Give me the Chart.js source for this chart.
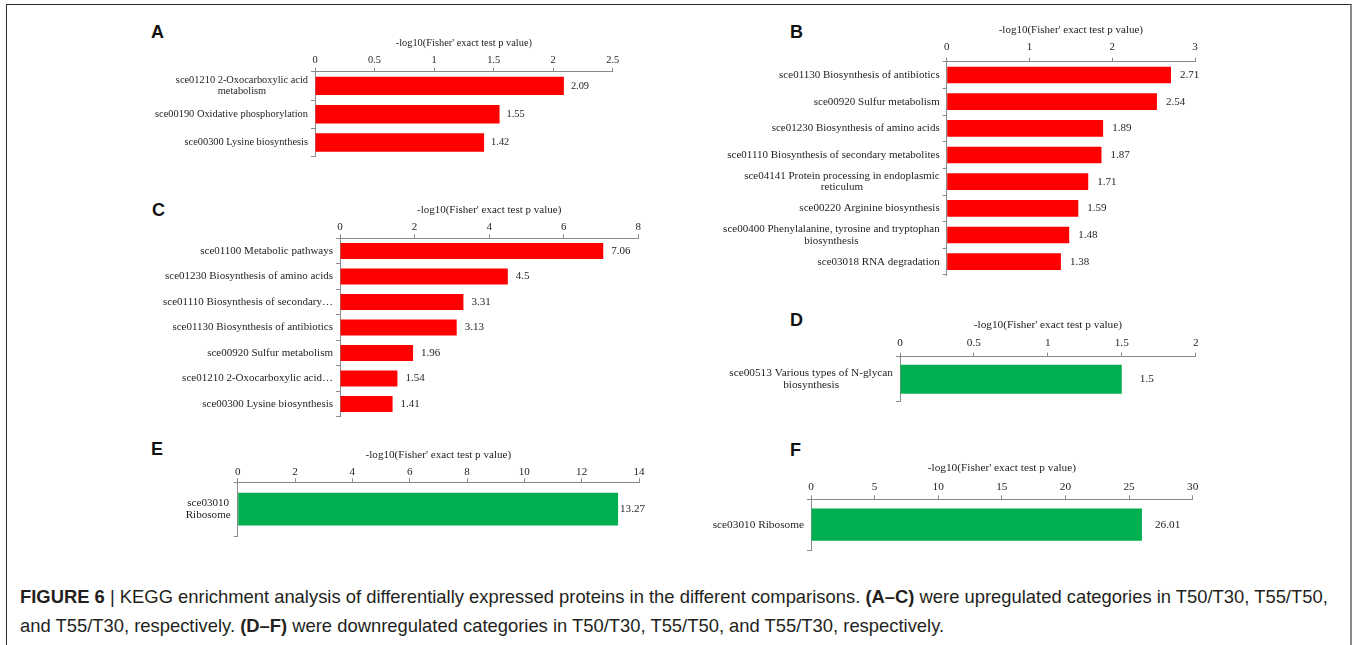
<!DOCTYPE html>
<html>
<head>
<meta charset="utf-8">
<script src="https://cdn.jsdelivr.net/npm/chart.js@4.4.1/dist/chart.umd.min.js"></script>
<style>
  html, body { margin: 0; padding: 0; background: #fff; }
  body { width: 1359px; height: 645px; position: relative; overflow: hidden; font-family: "Liberation Sans", Arial, sans-serif; }
  .frame { position: absolute; left: 6px; top: 4px; width: 1346px; height: 700px; border-left: 1px solid #2b2b2b; border-top: 1px solid #2b2b2b; border-right: 2px solid #8a8a8a; box-sizing: border-box; }
  .tag { position: absolute; font: bold 18px/18px "Liberation Sans", Arial, sans-serif; color: #111; }
  canvas { position: absolute; }
  .caption { position: absolute; left: 20px; top: 582px; width: 1330px; font-size: 18.4px; line-height: 29px; color: #231f20; white-space: nowrap; }
  .caption b { font-weight: bold; }
</style>
</head>
<body>
<div class="frame"></div>

<div class="tag" style="left:151px; top:23px;">A</div>
<div class="tag" style="left:790px; top:23px;">B</div>
<div class="tag" style="left:152px; top:201px;">C</div>
<div class="tag" style="left:790px; top:311px;">D</div>
<div class="tag" style="left:151px; top:440px;">E</div>
<div class="tag" style="left:790px; top:441px;">F</div>

<div class="caption">
  <div><b>FIGURE 6</b> | KEGG enrichment analysis of differentially expressed proteins in the different comparisons. <b>(A–C)</b> were upregulated categories in T50/T30, T55/T50,</div>
  <div>and T55/T30, respectively. <b>(D–F)</b> were downregulated categories in T50/T30, T55/T50, and T55/T30, respectively.</div>
</div>

<script>
// Shared text
const AXIS_TITLE = "-log10(Fisher' exact test p value)";

// A: upregulated, T50/T30
const catsA = [["sce01210 2-Oxocarboxylic acid", "metabolism"], "sce00190 Oxidative phosphorylation", "sce00300 Lysine biosynthesis"];
const valsA = [2.09, 1.55, 1.42];
const ticksA = [0, 0.5, 1, 1.5, 2, 2.5];

// B: upregulated, T55/T50
const catsB = [
  "sce01130 Biosynthesis of antibiotics",
  "sce00920 Sulfur metabolism",
  "sce01230 Biosynthesis of amino acids",
  "sce01110 Biosynthesis of secondary metabolites",
  ["sce04141 Protein processing in endoplasmic", "reticulum"],
  "sce00220 Arginine biosynthesis",
  ["sce00400 Phenylalanine, tyrosine and tryptophan", "biosynthesis"],
  "sce03018 RNA degradation"
];
const valsB = [2.71, 2.54, 1.89, 1.87, 1.71, 1.59, 1.48, 1.38];
const ticksB = [0, 1, 2, 3];

// C: upregulated, T55/T30
const catsC = [
  "sce01100 Metabolic pathways",
  "sce01230 Biosynthesis of amino acids",
  "sce01110 Biosynthesis of secondary…",
  "sce01130 Biosynthesis of antibiotics",
  "sce00920 Sulfur metabolism",
  "sce01210 2-Oxocarboxylic acid…",
  "sce00300 Lysine biosynthesis"
];
const valsC = [7.06, 4.5, 3.31, 3.13, 1.96, 1.54, 1.41];
const ticksC = [0, 2, 4, 6, 8];

// D: downregulated, T50/T30
const catsD = [["sce00513 Various types of N-glycan", "biosynthesis"]];
const valsD = [1.5];
const ticksD = [0, 0.5, 1, 1.5, 2];

// E: downregulated, T55/T50
const catsE = [["sce03010", "Ribosome"]];
const valsE = [13.27];
const ticksE = [0, 2, 4, 6, 8, 10, 12, 14];

// F: downregulated, T55/T30
const catsF = ["sce03010 Ribosome"];
const valsF = [26.01];
const ticksF = [0, 5, 10, 15, 20, 25, 30];

// Styling
const FONT = '"Liberation Serif", "Times New Roman", serif';
const TXT = "#1e1e1e";
const AXC = "#8a8a8a";
const RED = "#ff0000";
const GREEN = "#00b050";

// Category labels: each label block is right-aligned against the axis,
// with its lines centred within the block.
const catLabels = {
  id: "catLabels",
  afterDraw(chart, args, o) {
    const ctx = chart.ctx, ys = chart.scales.y, left = chart.chartArea.left;
    ctx.save();
    ctx.font = o.size + "px " + FONT;
    ctx.fillStyle = TXT;
    ctx.textAlign = "center";
    ctx.textBaseline = "middle";
    chart.data.labels.forEach((lab, i) => {
      const lines = Array.isArray(lab) ? lab : [lab];
      const w = Math.max(...lines.map(l => ctx.measureText(l).width));
      const cx = left - o.pad - w / 2;
      const cy = ys.getPixelForValue(i);
      lines.forEach((l, j) => ctx.fillText(l, cx, cy + (j - (lines.length - 1) / 2) * o.lh));
    });
    ctx.restore();
  }
};

// Value labels placed just past the end of each bar
const valueLabels = {
  id: "valueLabels",
  afterDatasetsDraw(chart, args, o) {
    const ctx = chart.ctx;
    const meta = chart.getDatasetMeta(0);
    const vals = chart.data.datasets[0].data;
    ctx.save();
    ctx.font = o.size + "px " + FONT;
    ctx.fillStyle = TXT;
    ctx.textAlign = "left";
    ctx.textBaseline = "middle";
    meta.data.forEach((bar, i) => ctx.fillText(String(vals[i]), bar.x + o.gap, bar.y));
    ctx.restore();
  }
};

function panel(cats, vals, ticks, color, g) {
  const L = Math.floor(g.x0 - g.yw);
  const T = Math.floor(g.titleY - 10);
  const W = Math.ceil(g.x1 + 40) - L;
  const H = Math.ceil(g.bottom + 3) - T;
  const cv = document.createElement("canvas");
  cv.width = W; cv.height = H;
  cv.style.left = L + "px"; cv.style.top = T + "px";
  cv.style.width = W + "px"; cv.style.height = H + "px";
  document.body.appendChild(cv);
  const lh = g.fs * 1.2;
  new Chart(cv, {
    type: "bar",
    data: {
      labels: cats,
      datasets: [{ data: vals, backgroundColor: color, borderWidth: 0, barPercentage: g.bar, categoryPercentage: 1 }]
    },
    options: {
      indexAxis: "y",
      responsive: false,
      maintainAspectRatio: false,
      animation: false,
      layout: { padding: { left: 0, top: 0, right: L + W - g.x1, bottom: T + H - g.bottom } },
      plugins: {
        legend: { display: false },
        tooltip: { enabled: false },
        catLabels: { size: g.fs, pad: 7, lh: g.lh },
        valueLabels: { size: g.fs, gap: g.gap }
      },
      scales: {
        x: {
          type: "linear",
          position: "top",
          min: ticks[0],
          max: ticks[ticks.length - 1],
          afterBuildTicks: s => { s.ticks = ticks.map(v => ({ value: v })); },
          afterFit: s => { s.height = g.axisY - T; },
          grid: { drawOnChartArea: false, drawTicks: true, tickLength: 4, color: AXC, lineWidth: 1 },
          border: { color: AXC, width: 1 },
          ticks: {
            font: { family: FONT, size: g.fs }, color: TXT,
            padding: (g.axisY - g.tickY) - 4 - lh / 2,
            maxRotation: 0, autoSkip: false,
            callback: v => String(v)
          },
          title: { display: true, text: AXIS_TITLE, font: { family: FONT, size: g.fs }, color: TXT, padding: { top: 10 - lh / 2, bottom: 0 } }
        },
        y: {
          type: "category",
          grid: { offset: true, drawOnChartArea: false, drawTicks: true, tickLength: 4, color: AXC, lineWidth: 1 },
          border: { color: AXC, width: 1 },
          ticks: { display: false },
          afterFit: s => { s.width = g.x0 - L; }
        }
      }
    },
    plugins: [catLabels, valueLabels]
  });
}

// Panel placement on the page
const geoA = { x0: 315, x1: 612.7, axisY: 71.7, bottom: 156.7, titleY: 43, tickY: 60.5, fs: 10.4, lh: 11, bar: 0.65, gap: 7, yw: 165 };
const geoB = { x0: 946.7, x1: 1195, axisY: 61.7, bottom: 275, titleY: 30.7, tickY: 47.5, fs: 11, lh: 11.7, bar: 0.625, gap: 9, yw: 240 };
const geoC = { x0: 340, x1: 638.3, axisY: 238.3, bottom: 416.7, titleY: 210, tickY: 226.7, fs: 11, lh: 11.7, bar: 0.63, gap: 8, yw: 190 };
const geoD = { x0: 900, x1: 1195.7, axisY: 356.7, bottom: 401.7, titleY: 325.7, tickY: 343.3, fs: 11.3, lh: 12, bar: 0.645, gap: 18, yw: 190 };
const geoE = { x0: 237.7, x1: 639, axisY: 482.3, bottom: 536, titleY: 455, tickY: 471.7, fs: 11.1, lh: 12.3, bar: 0.61, gap: 2, yw: 80 };
const geoF = { x0: 811, x1: 1192.7, axisY: 499.3, bottom: 550, titleY: 468.3, tickY: 486.7, fs: 11.3, lh: 12, bar: 0.64, gap: 13, yw: 110 };

panel(catsA, valsA, ticksA, RED, geoA);
panel(catsB, valsB, ticksB, RED, geoB);
panel(catsC, valsC, ticksC, RED, geoC);
panel(catsD, valsD, ticksD, GREEN, geoD);
panel(catsE, valsE, ticksE, GREEN, geoE);
panel(catsF, valsF, ticksF, GREEN, geoF);
</script>
</body>
</html>
